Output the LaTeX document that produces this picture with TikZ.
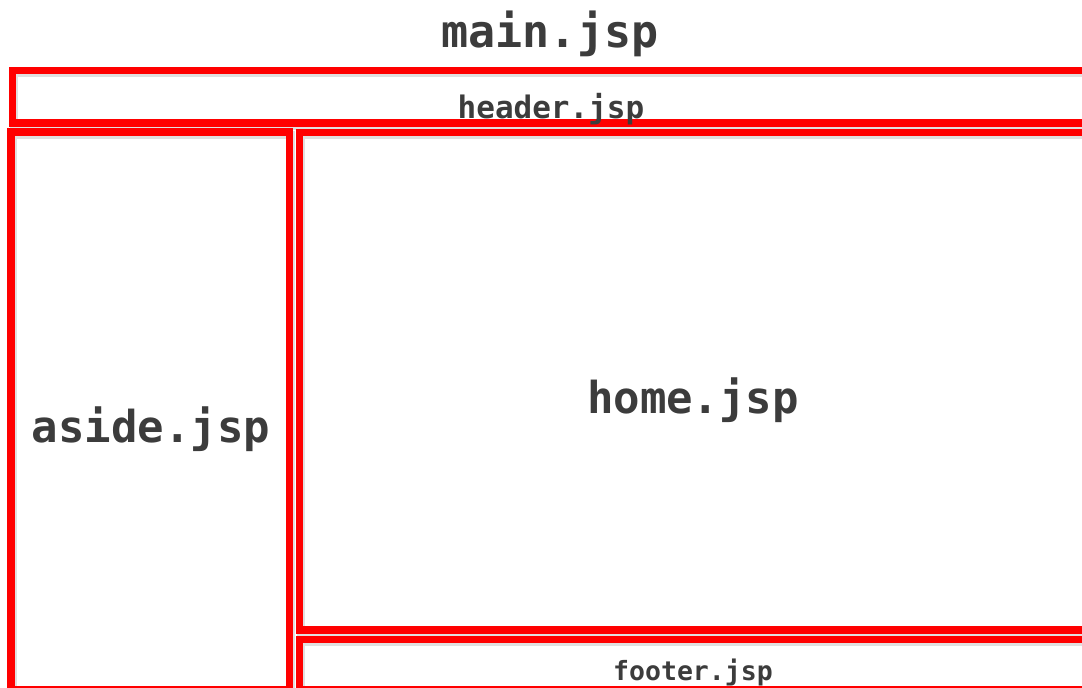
\documentclass[tikz,border=0pt]{standalone}
\usepackage{fontspec}
\newfontfamily\pagefont{DejaVu Sans Mono}[BoldFont={DejaVu Sans Mono Bold}]
\definecolor{framered}{HTML}{FF0000}
\definecolor{labelgray}{HTML}{3C3C3C}
\begin{document}
\begin{tikzpicture}[x=1pt,y=-1pt,
  frame/.style={draw=framered, line width=7.5pt, line join=miter},
  frameshadow/.style={draw=black, opacity=0.12, line width=8pt},
  label/.style={anchor=base, inner sep=0pt, text=labelgray}]
\useasboundingbox (0,0) rectangle (1082,688);
\clip (0,0) rectangle (1082,688);
\fill[white] (0,0) rectangle (1082,688);

% soft shadows under the frames
\foreach \a/\b/\c/\d in {12.5/70.5/1090/123, 11/132/289.5/690, 299.5/132.5/1090/630, 299.5/639.5/1090/690}
  \draw[frameshadow] (\a+1.5,\b+2.5) rectangle (\c+1.5,\d+2.5);

% page regions
\draw[frame] (12.5,70.5) rectangle (1090,123);
\draw[frame] (11,132) rectangle (289.5,690);
\draw[frame] (299.5,132.5) rectangle (1090,630);
\draw[frame] (299.5,639.5) rectangle (1090,690);

% file names
\node[label, font=\pagefont\bfseries\fontsize{45}{45}\selectfont] (main) at (550,47) {main.jsp};
\node[label, font=\pagefont\bfseries\fontsize{31}{31}\selectfont] (header) at (551,118) {header.jsp};
\node[label, font=\pagefont\bfseries\fontsize{44}{44}\selectfont] (aside) at (151,442) {aside.jsp};
\node[label, font=\pagefont\bfseries\fontsize{44}{44}\selectfont] (home) at (693,413) {home.jsp};
\node[label, font=\pagefont\bfseries\fontsize{26.5}{26.5}\selectfont] (footer) at (693,680) {footer.jsp};
\end{tikzpicture}
\end{document}
